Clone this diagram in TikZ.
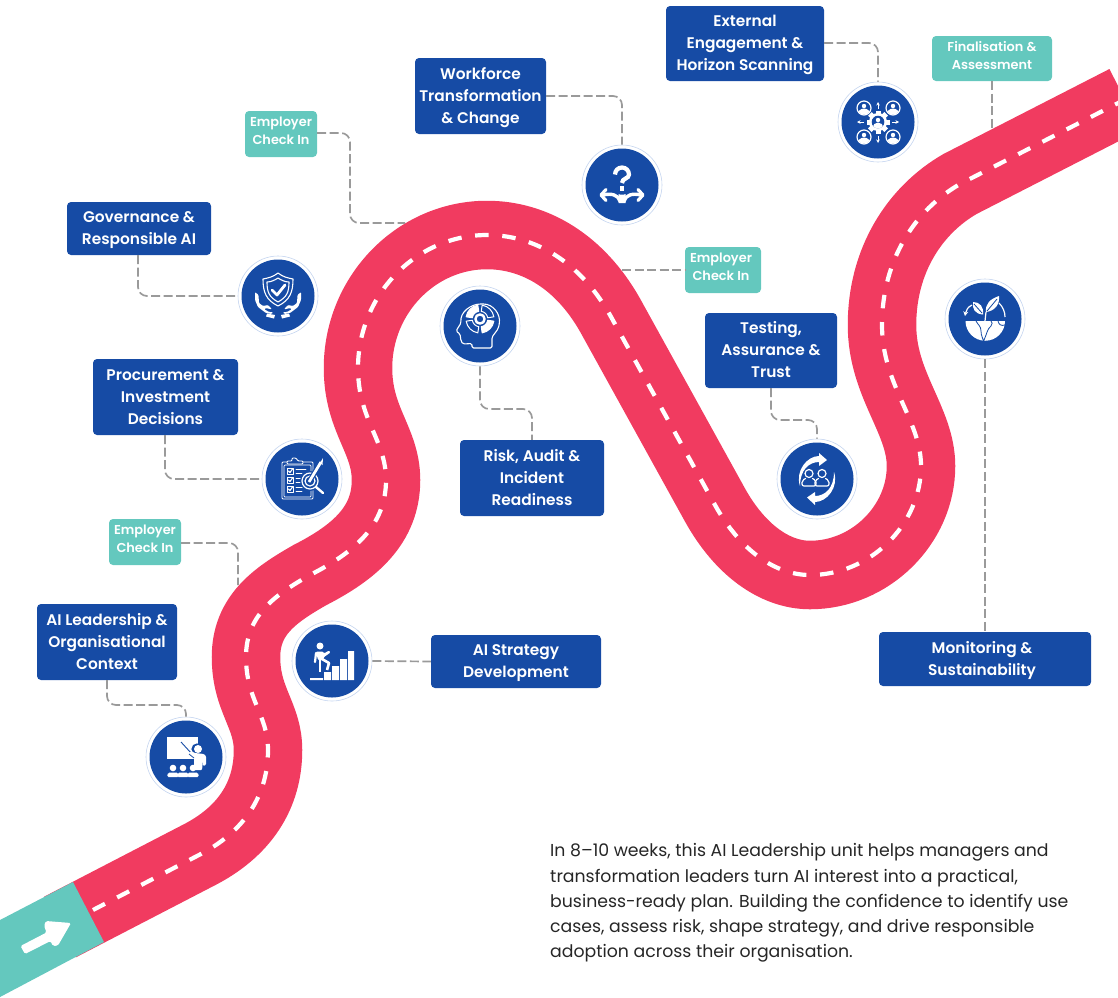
\documentclass[tikz,border=0pt]{standalone}
\usepackage{fontspec}
\setmainfont{Poppins}
\newfontfamily\lblfont{Poppins}[UprightFont=* SemiBold]
\usetikzlibrary{arrows.meta,calc}
\definecolor{roadred}{HTML}{F13B60}
\definecolor{navy}{HTML}{164BA5}
\definecolor{tealc}{HTML}{64C8BE}
\definecolor{ringc}{HTML}{C5D5F0}
\definecolor{connc}{HTML}{9A9A9A}
\definecolor{bodyc}{HTML}{262626}
\newcommand{\fb}{\rule{0pt}{15pt}}
\newcommand{\ft}{\rule{0pt}{10.5pt}}
\tikzset{
  bluebox/.style={fill=navy,rounded corners=4,text=white,align=center,font=\lblfont\fontsize{15.4}{22}\selectfont,inner sep=0,
    execute at end node={\rule[-4.5pt]{0pt}{0pt}}},
  tealbox/.style={fill=tealc,rounded corners=4,text=white,align=center,font=\lblfont\fontsize{12.9}{18}\selectfont,inner sep=0,
    execute at end node={\rule[-7pt]{0pt}{0pt}}},
  conn/.style={draw=connc,line width=1.7,dash pattern=on 9 off 3.5,rounded corners=9},
  ringn/.style={circle,draw=ringc,line width=0.6,fill=white,minimum size=80,inner sep=0},
  ico/.style={white,line width=1.3,line cap=round,line join=round},
}
\newcommand{\roadmid}{(197,856) .. controls (245,832) and (268,795) .. (268,750)
 .. controls (268,715) and (246,700) .. (246,657)
 .. controls (246,615) and (275,595) .. (310,575)
 .. controls (355,552) and (386,525) .. (386,480)
 .. controls (386,440) and (358,420) .. (358,368)
 .. controls (358,295) and (416,235) .. (487,235)
 .. controls (535,235) and (580,262) .. (610,315)
 -- (715,505)
 .. controls (740,550) and (775,575) .. (810,575)
 .. controls (870,575) and (921,525) .. (921,466)
 .. controls (921,420) and (882,385) .. (882,325)
 .. controls (882,260) and (915,210) .. (960,184)
 -- (1125,99.5)}
\begin{document}
\begin{tikzpicture}[x=1pt,y=-1pt]
\useasboundingbox (0,0) rectangle (1118,997);
\clip (0,0) rectangle (1118,997);
% road
\draw[roadred,line width=68.5] (60,927) -- \roadmid;
\draw[white,line width=4.2,dash pattern=on 13.5 off 13.7] (93,910) -- \roadmid;
% start section
\fill[tealc] (73,882) -- (104,942) -- (0,997) -- (0,920) -- cycle;
\fill[white,rounded corners=1.5] (20.5,946) -- (25,954) -- (50.5,941) -- (53,946) -- (58,945.5) -- (71,923) -- (46,921) -- (44,925.5) -- (46.5,932.5) -- cycle;
% boxes
\node[bluebox,minimum width=140,minimum height=76] (b1) at (107,642) {\fb AI Leadership \&\\Organisational\\Context};
\node[bluebox,minimum width=170,minimum height=53] (b2) at (516,661.5) {\fb AI Strategy\\Development};
\node[bluebox,minimum width=145,minimum height=76] (b3) at (165.5,397) {\fb Procurement \&\\Investment\\Decisions};
\node[bluebox,minimum width=144,minimum height=53] (b4) at (139,228.5) {\fb Governance \&\\Responsible AI};
\node[bluebox,minimum width=131,minimum height=76] (b5) at (480.5,96) {\fb Workforce\\Transformation\\\& Change};
\node[bluebox,minimum width=158,minimum height=75] (b6) at (745,43.5) {\fb External\\Engagement \&\\Horizon Scanning};
\node[bluebox,minimum width=144,minimum height=76] (b7) at (532,478) {\fb Risk, Audit \&\\Incident\\Readiness};
\node[bluebox,minimum width=132,minimum height=75] (b8) at (771,350.5) {\fb Testing,\\Assurance \&\\Trust};
\node[bluebox,minimum width=212,minimum height=54] (b9) at (985,659) {\fb Monitoring \&\rule{6pt}{0pt}\\Sustainability\rule{6pt}{0pt}};
\node[tealbox,minimum width=72,minimum height=46] (t1) at (281,134) {\ft Employer\\Check In};
\node[tealbox,minimum width=76,minimum height=46] (t2) at (723,270) {\ft Employer\rule{4pt}{0pt}\\Check In\rule{4pt}{0pt}};
\node[tealbox,minimum width=72,minimum height=46] (t3) at (145,542) {\ft Employer\\Check In};
\node[tealbox,minimum width=120,minimum height=45] (t4) at (992,58.5) {\ft Finalisation \&\\Assessment};
% discs
\foreach \n/\p in {c1/{186,757},c2/{332,661},c3/{302,479},c4/{278,296},c5/{480,326},c6/{622,185},c7/{878,122},c8/{817,479},c9/{985,319}}{
  \node[ringn] (\n) at (\p) {};
  \fill[navy] (\n) circle (36.5);
}
% waypoints
\coordinate (k1) at (107,705);
\coordinate (k3) at (165,479);
\coordinate (k4) at (138,296);
\coordinate (k5) at (622,96);
\coordinate (k6) at (878,43);
\coordinate (k7) at (480,409);
\coordinate (k7b) at (532,409);
\coordinate (k8) at (771,420);
\coordinate (k8b) at (817,420);
\coordinate (ka) at (350,133);
\coordinate (kb) at (350,223);
\coordinate (ke) at (405,223);
\coordinate (kc) at (238,543);
\coordinate (kf) at (238,585);
\coordinate (kg) at (622,270);
\coordinate (kh) at (992,130);
% connectors
\draw[conn] (b1.south -| k1) -- (k1) -- (k1 -| c1) -- (c1.north);
\draw[conn] (c2.east) -- (b2.west);
\draw[conn] (b3.south -| k3) -- (k3) -- (c3.west);
\draw[conn] (b4.south -| k4) -- (k4) -- (c4.west);
\draw[conn] (b5.east |- k5) -- (k5) -- (c6.north);
\draw[conn] (b6.east |- k6) -- (k6) -- (c7.north);
\draw[conn] (c5.south) -- (k7) -- (k7b) -- (b7.north -| k7b);
\draw[conn] (b8.south -| k8) -- (k8) -- (k8b) -- (c8.north);
\draw[conn] (c9.south) -- (b9.north -| c9);
\draw[conn] (t1.east |- ka) -- (ka) -- (kb) -- (ke);
\draw[conn] (t3.east |- kc) -- (kc) -- (kf);
\draw[conn] (kg) -- (t2.west |- kg);
\draw[conn] (t4.south -| kh) -- (kh);
% icon 1: lecture
\begin{scope}[shift={(c1)}]
  \fill[white] (-19,-20) rectangle (12,2);
  \draw[navy,line width=0.9] (-5,-15) -- (6,-3);
  \fill[navy] (11,-8) circle (5.6);
  \fill[white] (12,-8) circle (4);
  \fill[white,rounded corners=1] (5,-6) -- (9,-4) -- (18,-3) -- (20,-1) -- (20,8) -- (17,9) -- (17,3) -- (16,13) -- (8,13) -- (8,1) -- (3,-3) -- cycle;
  \draw[navy,line width=0.8] (3,-3) -- (8,1);
  \foreach \xx in {-13,-3,7}{
    \fill[white] (\xx,11) circle (3.3);
    \fill[white,rounded corners=1.5] (\xx-6,20) -- (\xx-5,15.5) -- (\xx+5,15.5) -- (\xx+6,20) -- cycle;
  }
\end{scope}
% icon 2: stairs
\begin{scope}[shift={(c2)}]
  \fill[white] (16,-10) rectangle (22,19) (8,-2) rectangle (15,19) (0,5) rectangle (7,19) (-8,11) rectangle (-1,19) (-22,17) rectangle (-9,19);
  \fill[white] (-12,-15) circle (3.5);
  \fill[white,rounded corners=1] (-16,-9.5) -- (-9,-9.5) -- (-8,-7.5) -- (-3,-10.5) -- (-1.5,-8.5) -- (-8,-4) -- (-9,-1) -- (-14,-1) -- cycle;
  \draw[white,line width=2.2,line cap=round] (-16,-8) -- (-17,1);
  \draw[white,line width=2.8,line join=round] (-12,-2) -- (-12,11);
  \draw[white,line width=2.6,line join=round] (-10,-2) -- (-3,2) -- (-5,9);
\end{scope}
% icon 3: clipboard
\begin{scope}[shift={(c3)}]
  \draw[ico,line width=0.9,rounded corners=1] (-20,-17) rectangle (11,20);
  \draw[ico,line width=0.7,rounded corners=1] (-18,-14) rectangle (9,18);
  \draw[ico,line width=0.9,fill=navy,rounded corners=1] (-10,-21) -- (-6,-21) -- (-4,-18) -- (1,-18) -- (1,-15) -- (-15,-15) -- (-15,-18) -- (-10,-18) -- cycle;
  \foreach \yy in {-8,1,10}{
    \draw[ico,line width=0.8] (-15,\yy-3) rectangle (-9,\yy+3);
    \draw[ico,line width=1.1] (-13.5,\yy) -- (-12,\yy+1.5) -- (-9.5,\yy-2);
    \draw[ico,line width=0.9] (-6,\yy-2) -- (4,\yy-2) (-6,\yy+2) -- (0,\yy+2);
  }
  \fill[navy] (8,2) circle (10);
  \draw[ico,line width=1.2] (8,2) circle (8);
  \draw[ico,line width=1.2] (8,2) circle (5);
  \draw[ico,line width=2.4] (14,8) -- (21,14);
  \draw[navy,line width=5,line cap=round] (7,3) -- (19,-17);
  \draw[ico,line width=2.8,line cap=butt] (7,3) -- (19,-17);
  \fill[white] (18,-16) -- (21,-21) -- (20.5,-14) -- cycle;
\end{scope}
% icon 4: shield and hands
\begin{scope}[shift={(c4)}]
  \draw[ico,line width=1.1] (0,-23) .. controls (-5,-19) and (-10,-18) .. (-15,-17) .. controls (-15,-4) and (-12,4) .. (0,10) .. controls (12,4) and (15,-4) .. (15,-17) .. controls (10,-18) and (5,-19) .. (0,-23) -- cycle;
  \draw[ico,line width=1.1] (0,-18) .. controls (-3,-16) and (-7,-14) .. (-11,-14) .. controls (-11,-4) and (-9,1) .. (0,6) .. controls (9,1) and (11,-4) .. (11,-14) .. controls (7,-14) and (3,-16) .. (0,-18) -- cycle;
  \draw[ico,line width=2.8] (-6,-6) -- (-1,-1) -- (7,-11);
  \foreach \s in {-1,1}{
    \begin{scope}[xscale=\s]
      \fill[white,rounded corners=1] (23,-4) -- (19.5,-1) -- (19,7) -- (15,10) -- (10,9) -- (6,13) -- (9,13) -- (11,12) -- (14,13) -- (9,16) -- (5,16) -- (6,18) -- (12,17) -- (20,11) -- (23,4) -- cycle;
      \fill[white] (3,19) -- (11,17.5) -- (12,20.5) -- (4,22.5) -- cycle;
    \end{scope}
  }
\end{scope}
% icon 5: head with wheel
\begin{scope}[shift={(c5)}]
  \draw[ico,line width=1.1,rounded corners=1.5] (-8,22) -- (-8,17.5) -- (-17,18) -- (-19,15) -- (-20,8) -- (-24,5) -- (-19,-3) .. controls (-20,-14) and (-9,-22) .. (2,-22) .. controls (13,-22) and (21,-12) .. (19,-1) .. controls (18,5) and (12,9) .. (12,14) -- (12,22) -- cycle;
  \draw[ico,line width=2.4] (0,-7) circle (4.6);
  \foreach \a/\f in {45/navy,135/white,225/navy,315/white}{
    \draw[white,fill=\f,line width=1,line join=round] ({7.8*cos(\a-36)},{-7-7.8*sin(\a-36)}) arc[start angle=-(\a-36),end angle=-(\a+36),radius=7.8] -- ({14*cos(\a+36)},{-7-14*sin(\a+36)}) arc[start angle=-(\a+36),end angle=-(\a-36),radius=14] -- cycle;
  }
\end{scope}
% icon 6: question with arrows
\begin{scope}[shift={(c6)}]
  \draw[white,line width=4.2] (-7,-10.5) arc[start angle=180,end angle=360,radius=7] .. controls (7,-6) and (0,-7) .. (0,-2);
  \fill[white] (-2.3,1) rectangle (2.3,5.5);
  \draw[white,line width=3.4] (-19,10) .. controls (-10,8) and (-4,10) .. (-2,16) -- (2,16) .. controls (4,10) and (10,8) .. (19,10);
  \fill[white] (-3.5,9) .. controls (-2,10) and (2,10) .. (3.5,9) -- (3.5,18) -- (-3.5,18) -- cycle;
  \draw[white,line width=3.2,line cap=round,line join=round] (-16,4.5) -- (-21,10) -- (-16,15.5) (16,4.5) -- (21,10) -- (16,15.5);
\end{scope}
% icon 7: network
\begin{scope}[shift={(c7)}]
  \foreach \xx/\yy in {-14/-14,15/-14,-14/15,15/15}{
    \draw[ico,line width=1.2] (\xx,\yy) circle (7);
    \fill[white] (\xx,\yy-2) circle (2.2);
    \begin{scope}
      \clip (\xx,\yy) circle (6.5);
      \fill[white] (\xx,\yy+7) circle (6.5);
    \end{scope}
  }
  \foreach \a in {0,45,...,315}{
    \fill[white,rotate=\a] (-2.5,-11.5) rectangle (2.5,-7);
  }
  \fill[white] (0,0) circle (9);
  \fill[navy] (0,0) circle (6.3);
  \fill[white] (0,-2) circle (2.2);
  \begin{scope}
    \clip (0,0) circle (6.3);
    \fill[white] (0,6) circle (5.5);
  \end{scope}
  \draw[white,line width=0.9,-{Stealth[length=3.5,width=3.5]}] (0,-13) -- (0,-20);
  \draw[white,line width=0.9,-{Stealth[length=3.5,width=3.5]}] (0,14) -- (0,21);
  \draw[white,line width=0.9,-{Stealth[length=3.5,width=3.5]}] (-14,0) -- (-21,0);
  \draw[white,line width=0.9,-{Stealth[length=3.5,width=3.5]}] (14,0) -- (21,0);
\end{scope}
% icon 8: cycle with people
\begin{scope}[shift={(c8)}]
  \fill[white] (-17,7) .. controls (-22,-8) and (-10,-23) .. (2,-23) -- (2,-26) -- (10,-19) -- (2,-13) -- (2,-17) .. controls (-8,-17) and (-17,-9) .. (-17,7) -- cycle;
  \fill[white] (17,-7) .. controls (22,8) and (10,23) .. (-2,23) -- (-2,26) -- (-10,18.5) -- (-2,13) -- (-2,17) .. controls (8,17) and (17,9) .. (17,-7) -- cycle;
  \foreach \xx in {-8,5}{
    \draw[ico,line width=1.2] (\xx,-5.5) circle (4);
    \draw[ico,line width=1.2,rounded corners=2] (\xx-3.5,-0.5) -- (\xx-7,1.5) -- (\xx-7,7) -- (\xx+7,7) -- (\xx+7,1.5) -- (\xx+3.5,-0.5);
  }
\end{scope}
% icon 9: earth and sprout
\begin{scope}[shift={(c9)}]
  \fill[white] (-19.5,2) -- (20,2) arc[start angle=0,end angle=180,radius=19.75] -- cycle;
  \draw[navy,line width=0.8,line join=round] (-9,2) .. controls (-7,6) and (-4,7) .. (-4,12) .. controls (-4,17) and (-2,19) .. (-1.5,22) .. controls (2,15) and (2,10) .. (6,7) .. controls (8,5) and (7,3) .. (6,2);
  \draw[navy,line width=0.8,line join=round] (13,2) .. controls (14,6) and (16,7) .. (20,6);
  \fill[white] (-2,-4.5) .. controls (-10,-5) and (-13,-10) .. (-12,-17) .. controls (-5,-17) and (-1,-12) .. (-2,-4.5) -- cycle;
  \draw[navy,line width=0.8] (-11,-15) -- (-3,-6);
  \fill[white] (1,-7) .. controls (0,-15) and (5,-20) .. (14,-23) .. controls (15,-15) and (10,-8) .. (1,-7) -- cycle;
  \draw[navy,line width=0.8] (12,-20) -- (2,-8);
  \draw[white,line width=1.2] (1,-7) -- (0,2);
  \draw[white,line width=1.2] (14,-16) .. controls (18,-12) and (20,-7) .. (20,-2);
  \draw[white,line width=1.2,-{Stealth[length=4.5,width=5]}] (-13,-14) .. controls (-17,-12) and (-19,-9) .. (-20,-3);
\end{scope}
% body text
\node[anchor=north west,align=left,text=bodyc,inner sep=0,font=\fontsize{17.3}{25.2}\selectfont] (body) at (550,843.5) {In 8--10 weeks, this AI Leadership unit helps managers and\\transformation leaders turn AI interest into a practical,\\business-ready plan. Building the confidence to identify use\\cases, assess risk, shape strategy, and drive responsible\\adoption across their organisation.};
\end{tikzpicture}
\end{document}
